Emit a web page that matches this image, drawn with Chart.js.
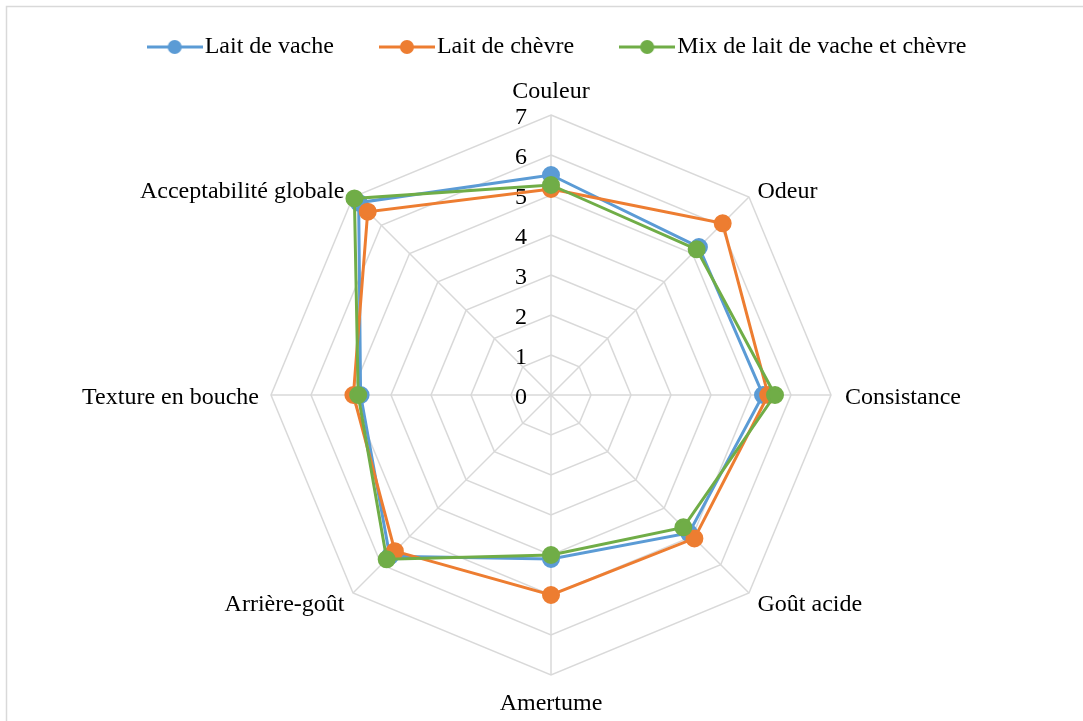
<!DOCTYPE html>
<html>
<head>
<meta charset="utf-8">
<script src="https://cdn.jsdelivr.net/npm/chart.js@4/dist/chart.umd.min.js"></script>
<style>
  html, body { margin: 0; padding: 0; background: #fff; }
  canvas { display: block; }
</style>
</head>
<body>
<canvas id="chart" width="1083" height="721"></canvas>
<script>
'use strict'

const criteres = [
  'Couleur',
  'Odeur',
  'Consistance',
  'Goût acide',
  'Amertume',
  'Arrière-goût',
  'Texture en bouche',
  'Acceptabilité globale',
];

const laitVache = [5.5, 5.23, 5.3, 4.88, 4.1, 5.7, 4.76, 6.8];
const laitChevre = [5.15, 6.07, 5.43, 5.07, 5.0, 5.52, 4.94, 6.48];
const laitMix = [5.25, 5.15, 5.6, 4.68, 4.0, 5.81, 4.82, 6.95];

const graduations = [0, 1, 2, 3, 4, 5, 6, 7];

const police = 'Liberation Serif, Times New Roman, serif';
const taille = 24;

// legend swatch: short line with a dot in the middle
function swatch(color) {
  const c = document.createElement('canvas');
  c.width = 56;
  c.height = 16;
  const g = c.getContext('2d');
  g.strokeStyle = color;
  g.lineWidth = 3;
  g.beginPath();
  g.moveTo(0, 8);
  g.lineTo(56, 8);
  g.stroke();
  g.fillStyle = color;
  g.beginPath();
  g.arc(28, 8, 7, 0, Math.PI * 2);
  g.fill();
  return c;
}

function serie(label, values, color, order) {
  return {
    label: label,
    data: values,
    borderColor: color,
    backgroundColor: color,
    pointBackgroundColor: color,
    pointBorderColor: color,
    borderWidth: 3,
    pointRadius: 7.5,
    pointHoverRadius: 7.5,
    fill: false,
    order: order,
  };
}

const data = {
  labels: criteres,
  datasets: [
    serie('Lait de vache', laitVache, '#5B9BD5', 2),
    serie('Lait de chèvre', laitChevre, '#ED7D31', 1),
    serie('Mix de lait de vache et chèvre', laitMix, '#70AD47', 0),
  ]
};

// frame, tick numbers left of the vertical axis, and the axis names
const decor = {
  id: 'decor',
  beforeDraw(chart) {
    const g = chart.ctx;
    g.save();
    g.fillStyle = '#fff';
    g.fillRect(0, 0, chart.width, chart.height);
    g.strokeStyle = '#d9d9d9';
    g.lineWidth = 1.5;
    g.strokeRect(6.5, 6.5, chart.width + 20, chart.height + 20);
    g.restore();
  },
  beforeDatasetsDraw(chart) {
    const r = chart.scales.r;
    const g = chart.ctx;
    g.save();
    g.fillStyle = '#000';
    g.font = taille + 'px ' + police;
    g.textAlign = 'center';
    g.textBaseline = 'middle';
    graduations.forEach(v => {
      g.fillText(String(v), r.xCenter - 30, r.yCenter - r.getDistanceFromCenterForValue(v) + 3);
    });

    criteres.forEach((nom, i) => {
      const p = r.getPointPosition(i, r.drawingArea + 12);
      const dx = p.x - r.xCenter;
      const dy = p.y - r.yCenter;
      let x = p.x;
      let y = p.y + 3;
      if (Math.abs(dx) < 1) {
        g.textAlign = 'center';
        y += dy < 0 ? -14 : 14;
      } else {
        g.textAlign = dx > 0 ? 'left' : 'right';
        if (Math.abs(dy) < 1) x += dx > 0 ? 2 : 0;
      }
      g.fillText(nom, x, y);
    });
    g.restore();
  }
};

const options = {
  responsive: false,
  animation: false,
  layout: {
    padding: { top: -20, bottom: 12, left: 40, right: 0 }
  },
  plugins: {
    tooltip: { enabled: false },
    legend: {
      position: 'top',
      labels: {
        usePointStyle: true,
        pointStyleWidth: 36,
        padding: 55,
        color: '#000',
        font: { family: police, size: taille },
        generateLabels(chart) {
          return chart.data.datasets.map((ds, i) => ({
            text: ds.label,
            pointStyle: swatch(ds.borderColor),
            fillStyle: ds.borderColor,
            strokeStyle: ds.borderColor,
            lineWidth: 0,
            hidden: false,
            datasetIndex: i,
            fontColor: '#000',
          }));
        }
      }
    }
  },
  scales: {
    r: {
      min: 0,
      max: 7,
      ticks: { stepSize: 1, display: false },
      grid: { color: '#d9d9d9', lineWidth: 1.5 },
      angleLines: { color: '#d9d9d9', lineWidth: 1.5 },
      // names are drawn by the decor plugin; empty labels here only set the room round the web
      pointLabels: {
        display: true,
        callback: () => '',
        font: { family: police, size: taille, lineHeight: 1.2 },
        padding: (c) => [11.2, 0, 222, 0, -2.8, 0, 0, 0][c.index]
      }
    }
  }
};

const chart = new Chart(document.getElementById('chart'), {
  type: 'radar',
  data: data,
  options: options,
  plugins: [decor]
});
</script>
</body>
</html>
